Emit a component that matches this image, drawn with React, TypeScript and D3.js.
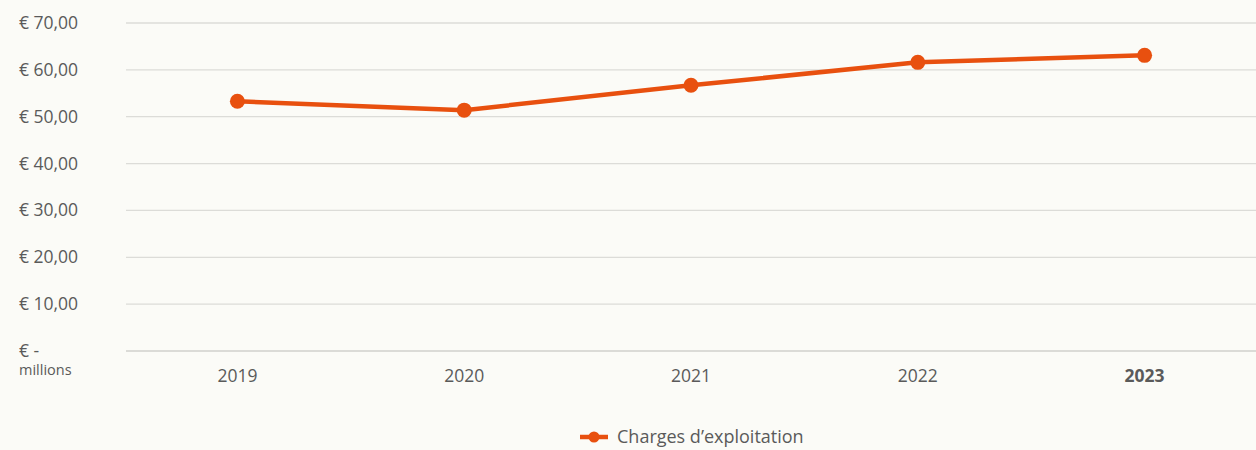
import React, { useEffect, useRef } from "react";
import * as d3 from "d3";

const years = ["2019", "2020", "2021", "2022", "2023"];
const charges = [53.3, 51.4, 56.7, 61.6, 63.1];
const yTicks = [0, 10, 20, 30, 40, 50, 60, 70];
const seriesName = "Charges d\u2019exploitation";

const width = 1256;
const height = 450;
const color = "#e8500f";
const textColor = "#5a5a5a";
const font = "'Open Sans', Lato, sans-serif";

const App: React.FC = () => {
  const svgRef = useRef<SVGSVGElement | null>(null);

  useEffect(() => {
    if (!svgRef.current) return;
    const svg = d3.select(svgRef.current);
    svg.selectAll("*").remove();

    svg.append("rect").attr("width", width).attr("height", height).attr("fill", "#fbfbf7");

    const x = d3.scaleBand().domain(years).range([124, 1258]);
    const y = d3.scaleLinear().domain([0, 70]).range([351, 23]);

    // gridlines
    svg
      .append("g")
      .selectAll("line")
      .data(yTicks)
      .join("line")
      .attr("x1", 126)
      .attr("x2", width)
      .attr("y1", (d) => y(d))
      .attr("y2", (d) => y(d))
      .attr("stroke", (d) => (d === 0 ? "#d0d0cc" : "#dcdcd8"))
      .attr("stroke-width", 1.3);

    // y labels
    svg
      .append("g")
      .selectAll("text")
      .data(yTicks)
      .join("text")
      .attr("x", 19)
      .attr("y", (d) => y(d) + 6)
      .attr("font-family", font)
      .attr("font-size", "17.5px")
      .attr("fill", textColor)
      .text((d) => (d === 0 ? "\u20ac -" : `\u20ac ${d3.format(".2f")(d).replace(".", ",")}`));

    svg
      .append("text")
      .attr("x", 19)
      .attr("y", 375)
      .attr("font-family", font)
      .attr("font-size", "14.5px")
      .attr("fill", textColor)
      .text("millions");

    // x labels
    svg
      .append("g")
      .selectAll("text")
      .data(years)
      .join("text")
      .attr("x", (d) => (x(d) || 0) + x.bandwidth() / 2)
      .attr("y", 382)
      .attr("text-anchor", "middle")
      .attr("font-family", font)
      .attr("font-size", "17.5px")
      .attr("font-weight", (d, i) => (i === years.length - 1 ? "bold" : "normal"))
      .attr("fill", textColor)
      .text((d) => d);

    const cx = (i: number) => (x(years[i]) || 0) + x.bandwidth() / 2;

    const line = d3
      .line<number>()
      .x((d, i) => cx(i))
      .y((d) => y(d));

    svg
      .append("path")
      .datum(charges)
      .attr("d", line)
      .attr("fill", "none")
      .attr("stroke", color)
      .attr("stroke-width", 4.5)
      .attr("stroke-linejoin", "round");

    svg
      .append("g")
      .selectAll("circle")
      .data(charges)
      .join("circle")
      .attr("cx", (d, i) => cx(i))
      .attr("cy", (d) => y(d))
      .attr("r", 7.5)
      .attr("fill", color);

    // legend
    const legend = svg.append("g").attr("transform", "translate(580, 437)");
    legend
      .append("line")
      .attr("x1", 0)
      .attr("x2", 28)
      .attr("stroke", color)
      .attr("stroke-width", 4.5);
    legend.append("circle").attr("cx", 14).attr("r", 5.5).attr("fill", color);
    legend
      .append("text")
      .attr("x", 37)
      .attr("y", 6)
      .attr("font-family", font)
      .attr("font-size", "18px")
      .attr("fill", textColor)
      .text(seriesName);
  }, []);

  return (
    <div style={{ position: "absolute", left: 0, top: 0 }}>
      <svg ref={svgRef} width={width} height={height} style={{ display: "block" }} />
    </div>
  );
};

export default App;
